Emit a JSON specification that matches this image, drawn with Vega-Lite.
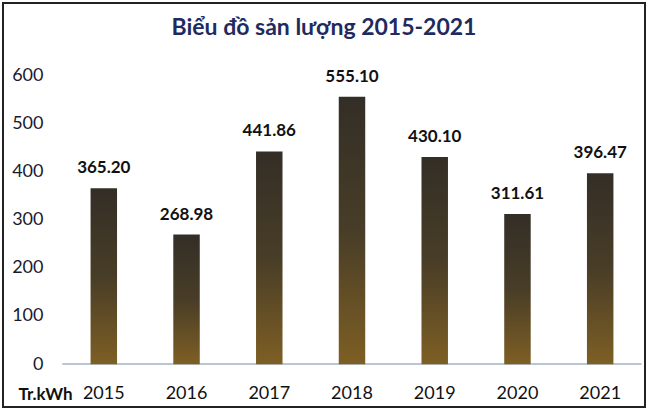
{
  "$schema": "https://vega.github.io/schema/vega-lite/v6.json",
  "width": 642,
  "height": 404,
  "padding": 3,
  "autosize": "none",
  "background": "white",
  "title": {
    "text": "Biểu đồ sản lượng 2015-2021",
    "font": "Lato",
    "fontSize": 23,
    "fontWeight": "bold",
    "color": "#1f2b5e",
    "anchor": "middle",
    "frame": "group",
    "offset": -37,
    "baseline": "top"
  },
  "data": {
    "values": [
      {"year": "2015", "value": 365.20},
      {"year": "2016", "value": 268.98},
      {"year": "2017", "value": 441.86},
      {"year": "2018", "value": 555.10},
      {"year": "2019", "value": 430.10},
      {"year": "2020", "value": 311.61},
      {"year": "2021", "value": 396.47}
    ]
  },
  "layer": [
    {
      "mark": {"type": "rule", "color": "#b9c6d3", "strokeWidth": 1.5, "xOffset": -41, "x2Offset": 41},
      "encoding": {
        "x": {"datum": "2015", "type": "nominal"},
        "x2": {"datum": "2021"},
        "y": {"datum": 0, "type": "quantitative"}
      }
    },
    {
      "mark": {
        "type": "bar",
        "fill": {
          "gradient": "linear",
          "x1": 0, "y1": 0, "x2": 0, "y2": 1,
          "stops": [
            {"offset": 0, "color": "#332e26"},
            {"offset": 0.5, "color": "#483d27"},
            {"offset": 1, "color": "#7e5f24"}
          ]
        }
      },
      "encoding": {
        "x": {"field": "year", "type": "nominal"},
        "y": {"field": "value", "type": "quantitative"}
      }
    },
    {
      "mark": {"type": "text", "baseline": "bottom", "dy": -11, "font": "Lato", "fontSize": 17, "fontWeight": "bold", "color": "#111111"},
      "encoding": {
        "x": {"field": "year", "type": "nominal"},
        "y": {"field": "value", "type": "quantitative"},
        "text": {"field": "value", "type": "quantitative", "format": ".2f"}
      }
    }
  ],
  "encoding": {
    "x": {
      "field": "year",
      "type": "nominal",
      "sort": null,
      "scale": {
        "domain": ["2015", "2016", "2017", "2018", "2019", "2020", "2021"],
        "paddingInner": 0.68,
        "paddingOuter": 0.72,
        "align": 0.735
      },
      "axis": {
        "title": null,
        "ticks": false,
        "domain": false,
        "labelAngle": 0,
        "labelFont": "Lato",
        "labelFontSize": 18,
        "labelColor": "#111111",
        "offset": -28,
        "labelPadding": 5
      }
    },
    "y": {
      "field": "value",
      "type": "quantitative",
      "scale": {"domain": [-89, 750], "nice": false, "zero": false},
      "axis": {
        "values": [0, 100, 200, 300, 400, 500, 600],
        "grid": false,
        "ticks": false,
        "domain": false,
        "offset": -44,
        "labelPadding": 4,
        "labelFont": "Lato",
        "labelFontSize": 18,
        "labelColor": "#1a1a2e",
        "title": "Tr.kWh",
        "titleAngle": 0,
        "titleX": -2,
        "titleY": 391,
        "titleAlign": "center",
        "titleBaseline": "middle",
        "titleFont": "Lato",
        "titleFontSize": 17,
        "titleFontWeight": "bold",
        "titleColor": "#111111"
      }
    }
  },
  "config": {
    "view": {"stroke": "#222222", "strokeWidth": 2}
  }
}
